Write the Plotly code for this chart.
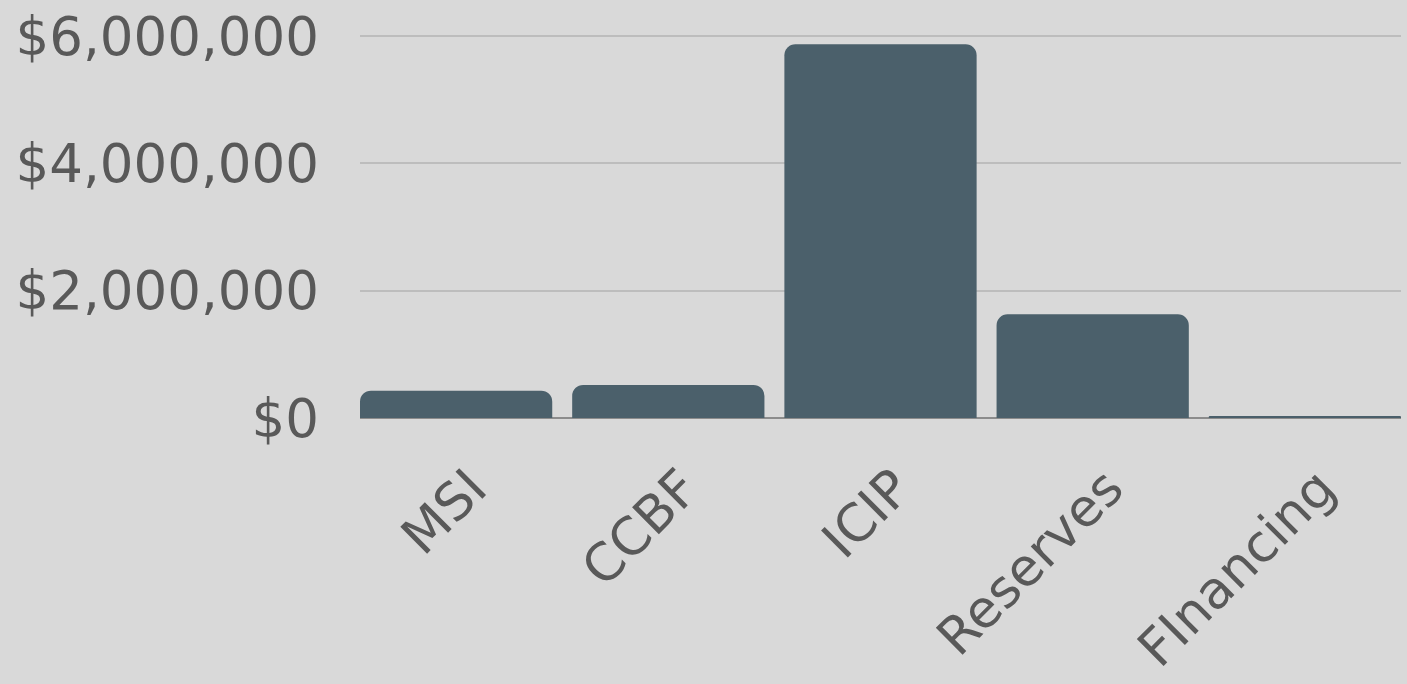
import plotly.graph_objects as go

categories = ["MSI", "CCBF", "ICIP", "Reserves", "FInancing"]
amounts = [430000, 520000, 5870000, 1630000, 25000]
y_ticks = [0, 2000000, 4000000, 6000000]
y_tick_labels = ["$0", "$2,000,000", "$4,000,000", "$6,000,000"]

font_family = "DejaVu Sans"
text_grey = "#595959"

fig = go.Figure(go.Bar(
    x=categories,
    y=amounts,
    marker_color="#4b606b",
    marker_line_width=0,
))

fig.update_layout(
    width=1407,
    height=684,
    paper_bgcolor="#d9d9d9",
    plot_bgcolor="#d9d9d9",
    bargap=0.094,
    barcornerradius=11,
    showlegend=False,
    margin=dict(l=360, r=6, t=28, b=262),
    font=dict(family=font_family, color=text_grey, size=52),
)
fig.update_xaxes(
    range=[-0.453, 4.453],
    tickangle=-45,
    tickfont=dict(size=52, color=text_grey),
    ticklabelstandoff=28,
    ticklabelshift=15,
    showgrid=False,
    showline=False,
)
fig.update_yaxes(
    range=[0, 6080000],
    tickvals=y_ticks,
    ticktext=y_tick_labels,
    tickfont=dict(size=53, color=text_grey),
    ticklabelstandoff=40,
    showgrid=True,
    gridcolor="#bdbdbd",
    gridwidth=2,
    zeroline=True,
    zerolinecolor="#8c8c8c",
    zerolinewidth=2,
)

fig.write_html(
    "out.html",
    config={"displayModeBar": False},
    post_script="document.body.style.margin='0';",
)
